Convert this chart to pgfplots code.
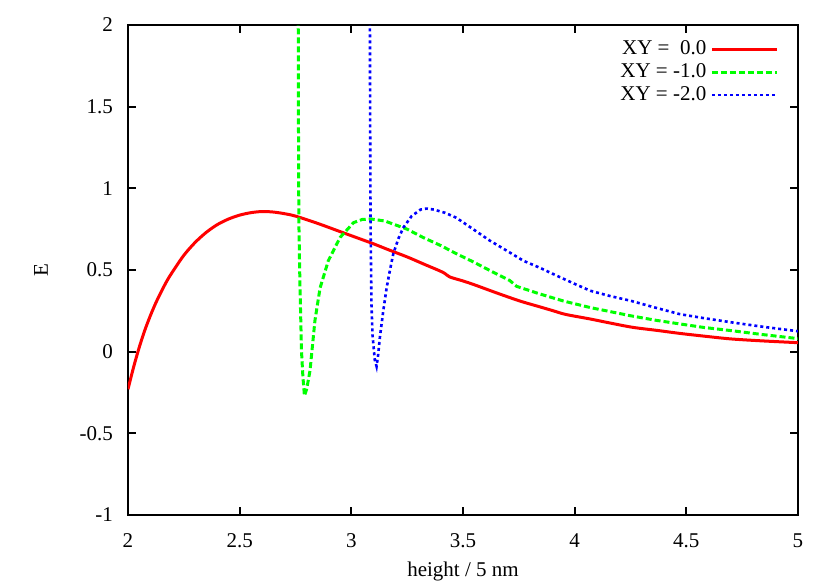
\documentclass[border=0pt]{standalone}
\usepackage{pgfplots}
\pgfplotsset{compat=1.18}
\usepackage{fontspec}
\setmainfont{Liberation Serif}
\begin{document}
\begin{tikzpicture}
\begin{axis}[
    name=main,
    scale only axis,
    width=335pt,
    height=245pt,
    xmin=2, xmax=5,
    ymin=-1, ymax=2,
    xtick={2,2.5,3,3.5,4,4.5,5},
    ytick={-1,-0.5,0,0.5,1,1.5,2},
    tick pos=both,
    tick align=inside,
    major tick length=4pt,
    axis line style={line width=1pt},
    every tick/.style={black, line width=1pt},
    /pgf/number format/assume math mode=true,
    yticklabel style={xshift=-4pt},
    xticklabel style={yshift=-6pt},
    xlabel={height / 5 nm},
    ylabel={E},
    ylabel style={yshift=9pt},
    legend style={draw=none, fill=none, at={(0.98,0.985)}, anchor=north east,
        legend cell align=right, row sep=-1pt, font=\fontsize{10.5}{11}\selectfont},
    legend plot pos=right,
    legend image post style={xscale=1.9},
    font=\fontsize{10.5}{11}\selectfont,
]
\addplot[color=red, line width=1.5pt, smooth] coordinates {
(2.000,-0.23)(2.025,-0.095)(2.05,0.025)(2.075,0.13)(2.10,0.22)(2.125,0.30)(2.15,0.37)
(2.175,0.435)(2.20,0.49)(2.25,0.59)(2.30,0.668)(2.35,0.73)(2.40,0.778)(2.45,0.812)
(2.50,0.836)(2.55,0.851)(2.60,0.858)(2.65,0.855)(2.70,0.845)(2.75,0.83)
(2.85,0.785)(2.94,0.74)(3.02,0.70)(3.10,0.66)(3.17,0.622)(3.25,0.58)(3.33,0.533)
(3.41,0.486)(3.44,0.458)(3.50,0.433)(3.55,0.41)(3.65,0.36)(3.755,0.31)(3.83,0.28)
(3.90,0.252)(3.96,0.228)(4.07,0.20)(4.16,0.175)(4.26,0.149)(4.37,0.13)(4.47,0.112)
(4.58,0.095)(4.70,0.078)(4.84,0.066)(5.00,0.055)
};
\addlegendentry{XY =\ \ 0.0}
\addplot[color=green, line width=1.5pt, dash pattern=on 3pt off 1.5pt] coordinates {
(2.762,2.2)(2.763,1.5)(2.765,0.8)(2.770,0.4)(2.777,0.0)(2.783,-0.15)(2.79,-0.27)
(2.80,-0.23)(2.815,-0.116)(2.837,0.19)(2.86,0.39)(2.897,0.557)(2.95,0.70)(3.01,0.79)
(3.05,0.81)(3.09,0.812)(3.15,0.80)(3.25,0.75)(3.32,0.70)(3.40,0.65)(3.47,0.60)
(3.55,0.547)(3.63,0.49)(3.71,0.435)(3.74,0.40)(3.845,0.353)(3.95,0.31)(4.07,0.27)
(4.16,0.245)(4.25,0.22)(4.36,0.193)(4.47,0.17)(4.58,0.148)(4.70,0.129)(4.84,0.105)
(5.00,0.08)
};
\addlegendentry{XY = -1.0}
\addplot[color=blue, line width=1.3pt, dash pattern=on 1.5pt off 1.5pt] coordinates {
(3.083,2.2)(3.084,1.5)(3.086,0.8)(3.09,0.3)(3.095,0.1)(3.105,-0.05)(3.113,-0.09)
(3.12,-0.02)(3.128,0.09)(3.143,0.25)(3.158,0.39)(3.173,0.50)(3.188,0.60)(3.21,0.69)
(3.233,0.76)(3.27,0.83)(3.31,0.87)(3.337,0.876)(3.37,0.87)(3.42,0.85)(3.47,0.82)
(3.54,0.755)(3.62,0.68)(3.70,0.615)(3.77,0.557)(3.85,0.51)(3.92,0.465)(4.00,0.415)
(4.07,0.373)(4.16,0.34)(4.25,0.312)(4.36,0.27)(4.47,0.23)(4.58,0.205)(4.70,0.18)
(4.84,0.153)(5.00,0.125)
};
\addlegendentry{XY = -2.0}
\end{axis}
\path ([shift={(-64pt,-33pt)}]main.south west) rectangle ([shift={(16pt,12.5pt)}]main.north east);
\end{tikzpicture}
\end{document}
